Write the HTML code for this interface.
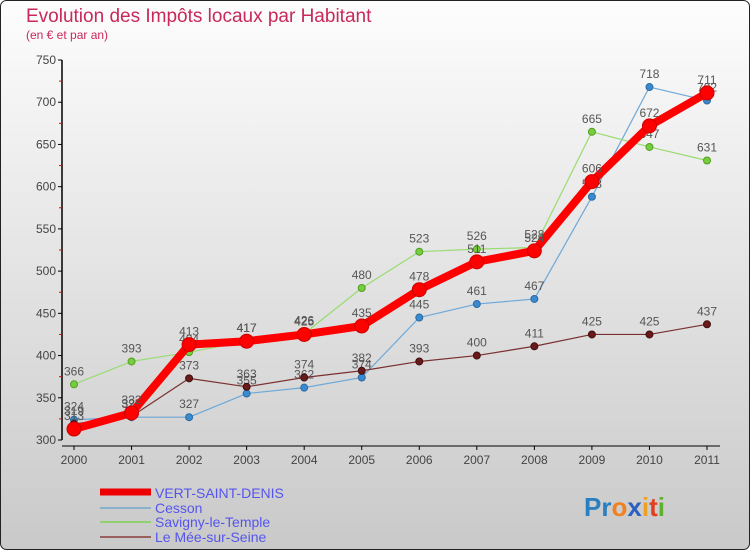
<!DOCTYPE html>
<html><head><meta charset="utf-8"><style>
html,body{margin:0;padding:0;}
body{width:750px;height:550px;overflow:hidden;font-family:"Liberation Sans",sans-serif;}
</style></head><body>
<svg id="chart" width="750" height="550" xmlns="http://www.w3.org/2000/svg" font-family="Liberation Sans, sans-serif">
<defs><linearGradient id="bg" x1="0" y1="0" x2="0" y2="1"><stop offset="0" stop-color="#fdfdfd"/><stop offset="1" stop-color="#c9c9c9"/></linearGradient></defs>
<rect x="0.5" y="0.5" width="749" height="549" rx="6" fill="url(#bg)" stroke="#222"/>
<text x="26" y="22" font-size="19" fill="#c8285a">Evolution des Impôts locaux par Habitant</text>
<text x="26" y="39" font-size="12" fill="#c8285a">(en € et par an)</text>
<g id="axes"></g>
<g id="series"></g>
<g id="legend">
<line x1="100" y1="492" x2="151" y2="492" stroke="#e00" stroke-width="7"/>
<text x="155" y="498" font-size="14" fill="#5555ee">VERT-SAINT-DENIS</text>
<line x1="100" y1="508" x2="151" y2="508" stroke="#8ab0cc" stroke-width="2"/>
<text x="155" y="513" font-size="14" fill="#5555ee">Cesson</text>
<line x1="100" y1="522" x2="151" y2="522" stroke="#90d070" stroke-width="2"/>
<text x="155" y="527" font-size="14" fill="#5555ee">Savigny-le-Temple</text>
<line x1="100" y1="537" x2="151" y2="537" stroke="#9a6060" stroke-width="2"/>
<text x="155" y="542" font-size="14" fill="#5555ee">Le Mée-sur-Seine</text>
</g>
<text x="584" y="516" font-size="26" font-weight="bold"><tspan fill="#2a7fc0">Pr</tspan><tspan fill="#f08020">o</tspan><tspan fill="#2a60c0">x</tspan><tspan fill="#f0a020">i</tspan><tspan fill="#e04020">t</tspan><tspan fill="#60b030">i</tspan></text>
</svg>
<script>
const years=["2000","2001","2002","2003","2004","2005","2006","2007","2008","2009","2010","2011"];
const vertSaintDenis=[313,332,413,417,425,435,478,511,524,606,672,711];
const cesson=[324,327,327,355,362,374,445,461,467,588,718,702];
const savigny=[366,393,404,417,426,480,523,526,528,665,647,631];
const leMee=[319,328,373,363,374,382,393,400,411,425,425,437];
const yTicks=[300,350,400,450,500,550,600,650,700,750];
const NS="http://www.w3.org/2000/svg";
function xs(i){return 74+i*(707-74)/(years.length-1);}
function ys(v){return 440-(v-300)*(380/450);}
function mk(tag,attrs,parent){const e=document.createElementNS(NS,tag);for(const k in attrs)e.setAttribute(k,attrs[k]);parent.appendChild(e);return e;}
const axes=document.getElementById('axes');
const yAxis=mk('line',{x1:62,y1:60,x2:62,y2:440,stroke:'#000','stroke-width':1.5},axes);


yTicks.forEach(t=>{
  const y=ys(t);
  mk('line',{x1:58,y1:y,x2:62,y2:y,stroke:'#000'},axes);
  const tx=mk('text',{x:56,y:y+4,'font-size':12,fill:'#444','text-anchor':'end'},axes);
  
  
  tx.textContent=t;
  if(t<750){const m=ys(t+25);mk('line',{x1:59,y1:m,x2:62,y2:m,stroke:'#e00'},axes);}
});
years.forEach((yr,i)=>{
  const x=xs(i);
  mk('line',{x1:x,y1:446,x2:x,y2:450,stroke:'#000'},axes);
  const tx=mk('text',{x:x,y:464,'font-size':12,fill:'#444','text-anchor':'middle'},axes);
  
  
  tx.textContent=yr;
});
const xAxis=mk('line',{x1:62,y1:446,x2:720,y2:446,stroke:'#000',"stroke-width":1},axes);


const sg=document.getElementById('series');
function drawSeries(name,vals,color,dot,dotStroke,w,r){
  const g=mk('g',{},sg);
  
  
  const pl=mk('polyline',{points:vals.map((v,i)=>xs(i)+','+ys(v)).join(' '),fill:'none',stroke:color,'stroke-width':w,'stroke-linejoin':'round'},g);
  
  
  vals.forEach((v,i)=>{
    const c=mk('circle',{cx:xs(i),cy:ys(v),r:r,fill:dot,stroke:dotStroke,'stroke-width':1},g);
    
    
    const t=mk('text',{x:xs(i),y:ys(v)-9,'font-size':12,fill:'#555','text-anchor':'middle'},g);
    
    
    t.textContent=v;
  });
}
drawSeries('cesson',cesson,'#6ea8d8','#3a8ad0','#2a6aa0',1.2,3.5);
drawSeries('savigny',savigny,'#98dc70','#78cc40','#50a020',1.2,3.5);
drawSeries('le-mee',leMee,'#7a3030','#6a1a1a','#401010',1.2,3.5);
drawSeries('vert-saint-denis',vertSaintDenis,'#f00','#f00','#c00',8,7);
</script>
</body></html>
